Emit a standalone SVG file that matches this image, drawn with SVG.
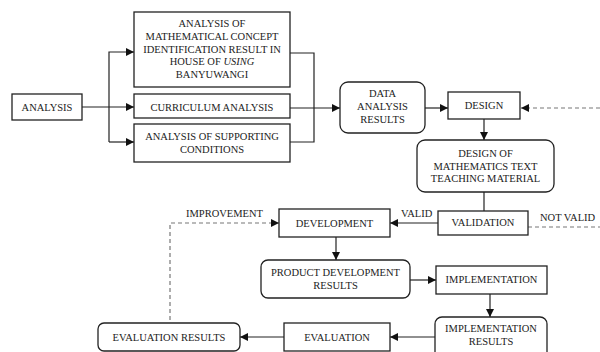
<svg xmlns="http://www.w3.org/2000/svg" width="600" height="352" viewBox="0 0 600 352">
<style>
.b{fill:#fff;stroke:#222;stroke-width:1.3}
.t{font-family:"Liberation Serif","Times New Roman",serif;font-size:10.5px;fill:#222;text-anchor:middle}
.l{fill:none;stroke:#222;stroke-width:1.2}
.d{fill:none;stroke:#777;stroke-width:1.2;stroke-dasharray:4,3}
.lb{font-family:"Liberation Serif","Times New Roman",serif;font-size:10.5px;fill:#222}
</style>
<defs>
<marker id="ah" viewBox="0 0 8 8" refX="8" refY="4" markerWidth="8" markerHeight="8" markerUnits="userSpaceOnUse" orient="auto">
<path d="M0,0 L8,4 L0,8 z" fill="#111"/>
</marker>
</defs>
<rect width="600" height="352" fill="#fff"/>
<g id="connectors">
<path class="l" d="M82,107 H134" marker-end="url(#ah)"/>
<path class="l" d="M109,142 V52 H134" marker-end="url(#ah)"/>
<path class="l" d="M109,142 H134" marker-end="url(#ah)"/>
<path class="l" d="M290,53 H314 V142 H290"/>
<path class="l" d="M290,108 H340" marker-end="url(#ah)"/>
<path class="l" d="M425,108 H448" marker-end="url(#ah)"/>
<path class="d" d="M600,108 H521" marker-end="url(#ah)"/>
<path class="l" d="M484,119 V140" marker-end="url(#ah)"/>
<path class="l" d="M484,192 V211"/>
<path class="l" d="M438,223 H390" marker-end="url(#ah)"/>
<path class="d" d="M528,227 H600"/>
<path class="d" d="M170,320 V223 H279" marker-end="url(#ah)"/>
<path class="l" d="M336,237 V260" marker-end="url(#ah)"/>
<path class="l" d="M410,280 H436" marker-end="url(#ah)"/>
<path class="l" d="M490,294 V317" marker-end="url(#ah)"/>
<path class="l" d="M435,337 H390" marker-end="url(#ah)"/>
<path class="l" d="M284,337 H240" marker-end="url(#ah)"/>
<text class="lb" x="401" y="217">VALID</text>
<text class="lb" x="540" y="221">NOT VALID</text>
<text class="lb" x="186" y="217">IMPROVEMENT</text>
</g>
<g id="analysis"><rect class="b" x="12" y="94" width="70" height="26"/><text class="t" x="47" y="110.5">ANALYSIS</text></g>
<g id="concept"><rect class="b" x="134" y="12" width="156" height="75"/>
<text class="t" x="212" y="27">ANALYSIS OF</text>
<text class="t" x="212" y="40">MATHEMATICAL CONCEPT</text>
<text class="t" x="212" y="52.5">IDENTIFICATION RESULT IN</text>
<text class="t" x="212" y="65">HOUSE OF <tspan font-style="italic">USING</tspan></text>
<text class="t" x="212" y="78">BANYUWANGI</text></g>
<g id="curriculum"><rect class="b" x="134" y="94" width="156" height="24"/><text class="t" x="212" y="110.5">CURRICULUM ANALYSIS</text></g>
<g id="supporting"><rect class="b" x="134" y="124" width="156" height="38"/>
<text class="t" x="212" y="140">ANALYSIS OF SUPPORTING</text>
<text class="t" x="212" y="152.5">CONDITIONS</text></g>
<g id="data-results"><rect class="b" x="340" y="82" width="85" height="51" rx="8"/>
<text class="t" x="382.5" y="97">DATA</text>
<text class="t" x="382.5" y="110">ANALYSIS</text>
<text class="t" x="382.5" y="122.5">RESULTS</text></g>
<g id="design"><rect class="b" x="448" y="92" width="72" height="27"/><text class="t" x="484" y="108.5">DESIGN</text></g>
<g id="design-material"><rect class="b" x="417" y="140" width="137" height="52" rx="8"/>
<text class="t" x="485.5" y="157">DESIGN OF</text>
<text class="t" x="485.5" y="169.5">MATHEMATICS TEXT</text>
<text class="t" x="485.5" y="182">TEACHING MATERIAL</text></g>
<g id="validation"><rect class="b" x="438" y="211" width="90" height="24"/><text class="t" x="483" y="226">VALIDATION</text></g>
<g id="development"><rect class="b" x="279" y="209" width="111" height="28"/><text class="t" x="334.5" y="226.5">DEVELOPMENT</text></g>
<g id="product-results"><rect class="b" x="261" y="260" width="149" height="38" rx="7"/>
<text class="t" x="335.5" y="275.5">PRODUCT DEVELOPMENT</text>
<text class="t" x="335.5" y="288.5">RESULTS</text></g>
<g id="implementation"><rect class="b" x="436" y="266" width="111" height="28"/><text class="t" x="491.5" y="283">IMPLEMENTATION</text></g>
<g id="implementation-results"><rect class="b" x="435" y="317" width="112" height="45" rx="7"/>
<text class="t" x="491" y="332">IMPLEMENTATION</text>
<text class="t" x="491" y="344.5">RESULTS</text></g>
<g id="evaluation"><rect class="b" x="284" y="323" width="106" height="28"/><text class="t" x="337" y="340.5">EVALUATION</text></g>
<g id="evaluation-results"><rect class="b" x="98" y="323" width="142" height="28" rx="6"/><text class="t" x="169" y="340.5">EVALUATION RESULTS</text></g>
</svg>
